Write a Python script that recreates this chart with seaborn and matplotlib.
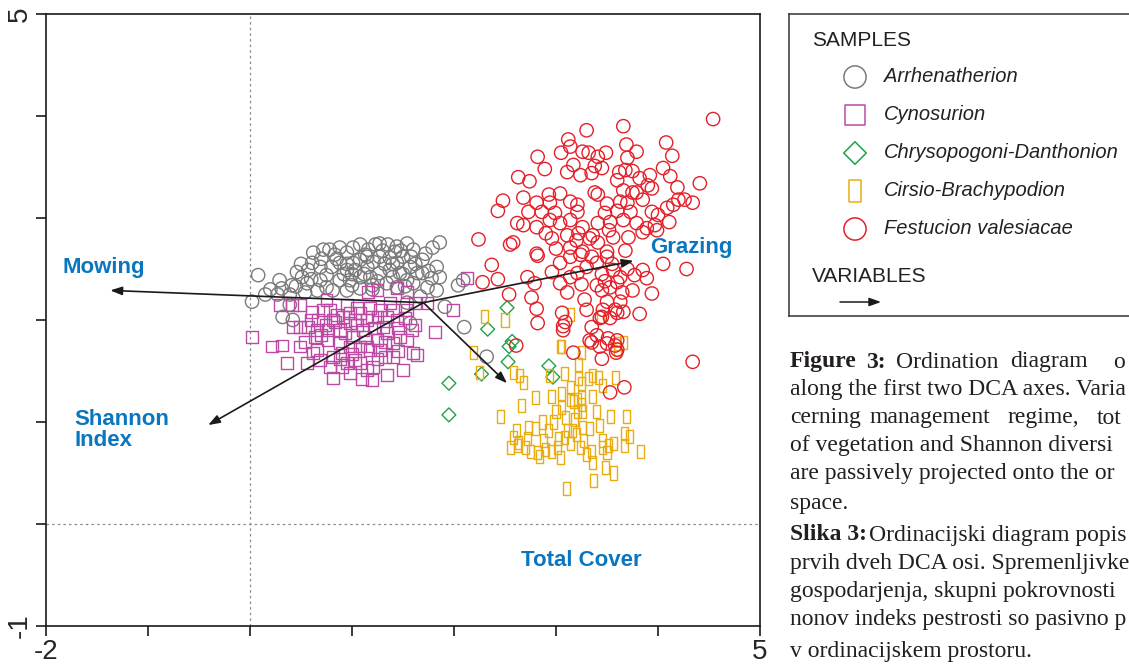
import numpy as np
import pandas as pd
import seaborn as sns
import matplotlib.pyplot as plt

sns.set_style('white')
plt.rcParams['font.family'] = ['Liberation Sans', 'DejaVu Sans']

W, H = 1129, 666

# DCA sample scores (axis 1, axis 2)
arr_x = [0.08, 0.02, 0.15, 0.29, 0.31, 0.27, 0.41, 0.46, 0.51, 0.57,
         0.56, 0.62, 0.61, 0.69, 0.72, 0.78, 0.83, 0.88, 0.95, 1.01,
         1.08, 1.16, 1.23, 1.27, 1.35, 1.44, 1.54, 1.60, 1.69, 1.79,
         1.86, 1.83, 1.86, 1.78, 1.69, 0.69, 0.75, 0.80, 0.88, 0.95,
         1.01, 1.08, 1.15, 1.21, 1.27, 1.37, 1.44, 1.50, 1.57, 1.64,
         0.88, 0.98, 1.08, 1.18, 1.27, 1.37, 1.47, 1.54, 1.60, 0.81,
         0.95, 1.08, 1.34, 1.44, 1.74, 1.83, 0.66, 0.54, 0.39, 1.91,
         2.04, 2.10, 0.39, 0.32, 0.42, 1.57, 1.54, 1.67, 2.09, 2.32,
         1.03, 1.20, 1.32, 1.42, 1.13,
         0.70, 0.85, 0.92, 1.00, 1.12, 1.25, 1.40, 1.50, 1.62, 1.72,
         0.60, 0.75, 1.00, 1.15, 1.30, 1.48, 1.58, 1.75, 1.20, 1.52,
         0.50, 0.45, 0.20, 0.95, 1.40]
arr_y = [2.44, 2.18, 2.25, 2.39, 2.31, 2.25, 2.34, 2.47, 2.42, 2.49,
         2.36, 2.66, 2.56, 2.52, 2.69, 2.69, 2.64, 2.71, 2.66, 2.71,
         2.74, 2.69, 2.74, 2.75, 2.74, 2.72, 2.75, 2.69, 2.59, 2.71,
         2.76, 2.52, 2.42, 2.41, 2.46, 2.39, 2.44, 2.52, 2.56, 2.49,
         2.56, 2.59, 2.52, 2.57, 2.62, 2.61, 2.56, 2.62, 2.52, 2.46,
         2.39, 2.39, 2.42, 2.42, 2.46, 2.49, 2.46, 2.39, 2.36, 2.29,
         2.29, 2.31, 2.36, 2.32, 2.32, 2.29, 2.29, 2.27, 2.25, 2.13,
         2.34, 1.93, 2.15, 2.03, 2.00, 1.97, 2.17, 2.23, 2.39, 1.64,
         2.49, 2.34, 2.55, 2.67, 2.64,
         2.60, 2.60, 2.45, 2.45, 2.45, 2.38, 2.42, 2.45, 2.55, 2.65,
         2.40, 2.32, 2.34, 2.62, 2.68, 2.68, 2.62, 2.48, 2.30, 2.33,
         2.55, 2.33, 2.30, 2.55, 2.55]

cyn_x = [0.02, 0.22, 0.31, 0.36, 0.29, 0.41, 0.42, 0.49, 0.56, 0.57,
         0.61, 0.64, 0.66, 0.72, 0.74, 0.76, 0.78, 0.81, 0.85, 0.88,
         0.90, 0.95, 0.98, 0.98, 1.01, 1.03, 1.08, 1.11, 1.15, 1.16,
         1.20, 1.21, 1.25, 1.20, 1.25, 1.27, 1.30, 1.32, 1.34, 1.37,
         1.40, 1.44, 1.44, 1.47, 1.50, 1.54, 1.54, 1.59, 1.60, 1.62,
         1.64, 1.74, 1.81, 1.99, 2.13, 0.49, 0.67, 0.78, 0.81, 0.91,
         1.03, 1.05, 1.15, 1.25, 1.34, 0.66, 0.76, 0.88, 0.98, 1.08,
         1.18, 1.27, 0.69, 0.81, 0.90, 1.08, 1.15, 0.95, 1.40, 1.34,
         1.54, 0.62, 0.54, 0.49,
         0.70, 0.83, 0.93, 1.05, 1.13, 1.22, 1.32, 1.45, 1.52, 1.40,
         1.18, 0.98, 0.75, 0.60, 1.00, 1.25, 1.10, 0.88, 1.45, 1.62]
cyn_y = [1.83, 1.74, 1.75, 1.58, 2.15, 2.15, 1.93, 1.74, 1.58, 1.93,
         2.08, 1.83, 1.71, 2.10, 1.95, 1.80, 1.54, 1.43, 2.05, 1.90,
         1.68, 2.15, 1.97, 1.48, 1.83, 1.61, 2.07, 1.90, 1.74, 2.27,
         2.03, 1.54, 2.29, 1.41, 1.80, 2.10, 1.93, 1.64, 1.46, 2.17,
         1.77, 2.31, 2.00, 1.83, 1.51, 2.27, 2.10, 1.90, 1.68, 2.17,
         1.66, 2.17, 1.88, 2.10, 2.41, 2.15, 2.00, 2.10, 2.00, 2.03,
         2.00, 2.12, 2.00, 2.03, 2.03, 1.90, 1.90, 1.77, 1.74, 1.74,
         1.71, 1.71, 1.61, 1.64, 1.54, 1.58, 1.51, 1.58, 1.64, 1.87,
         1.80, 1.68, 1.78, 1.93,
         1.85, 1.98, 1.87, 1.95, 1.83, 1.92, 1.78, 1.92, 2.02, 2.10,
         2.12, 2.07, 2.20, 2.00, 1.67, 1.62, 1.42, 1.62, 1.70, 1.95]

chr_x = [2.52, 2.33, 2.57, 2.54, 2.53, 2.27, 1.95, 1.95, 2.93, 2.97]
chr_y = [2.12, 1.91, 1.79, 1.74, 1.59, 1.47, 1.38, 1.07, 1.55, 1.44]

cir_x = [2.19, 2.25, 2.58, 2.64, 2.68, 3.05, 3.25, 3.22, 2.94, 3.08,
         3.14, 3.22, 3.25, 3.32, 3.36, 3.42, 3.46, 3.58, 3.66, 3.60,
         2.80, 2.66, 2.46, 2.96, 3.05, 3.14, 3.17, 3.21, 3.25, 3.36,
         3.00, 3.09, 3.21, 3.26, 3.25, 2.87, 2.93, 2.80, 2.73, 2.61,
         2.58, 2.63, 2.72, 2.70, 2.75, 2.55, 2.62, 2.82, 2.84, 2.90,
         2.96, 3.01, 3.04, 3.02, 3.11, 3.16, 3.14, 3.24, 3.27, 3.30,
         3.35, 3.36, 3.43, 3.46, 3.46, 3.50, 3.51, 3.56, 3.53, 3.69,
         3.67, 3.72, 3.67, 3.83, 3.49, 3.56, 3.37, 3.10, 3.26, 3.33,
         2.30, 2.50, 3.14, 3.44, 3.04, 3.60,
         2.88, 3.08, 3.20, 2.98, 3.18, 3.40, 3.05]
cir_y = [1.68, 1.49, 1.49, 1.46, 1.39, 1.74, 1.68, 1.56, 1.46, 1.48,
         1.34, 1.43, 1.38, 1.43, 1.46, 1.44, 1.36, 1.44, 1.78, 1.77,
         1.24, 1.16, 1.05, 1.25, 1.28, 1.22, 1.20, 1.22, 1.24, 1.25,
         1.10, 1.04, 1.10, 1.10, 1.17, 1.00, 0.92, 0.94, 0.95, 0.92,
         0.85, 0.80, 0.84, 0.75, 0.71, 0.75, 0.77, 0.70, 0.66, 0.73,
         0.71, 0.75, 0.65, 0.84, 0.92, 0.92, 0.79, 0.75, 0.82, 0.68,
         0.71, 0.60, 0.97, 0.82, 0.75, 0.70, 0.77, 0.79, 1.05, 1.05,
         0.89, 0.86, 0.77, 0.71, 0.55, 0.50, 0.43, 0.35, 0.95, 0.94,
         2.03, 2.00, 2.05, 2.03, 1.74, 1.71,
         0.82, 0.85, 0.88, 1.00, 1.02, 1.10, 1.14]

fes_x = [4.54, 3.66, 3.30, 3.12, 4.08, 3.69, 3.79, 4.14, 2.82, 3.05,
         3.14, 3.26, 3.32, 3.49, 3.70, 3.41, 2.89, 3.17, 3.11, 3.24,
         3.38, 3.45, 3.35, 4.05, 4.12, 3.62, 3.68, 3.75, 2.63, 2.74,
         3.60, 3.82, 3.92, 3.90, 3.94, 4.19, 4.41, 3.66, 3.75, 3.79,
         3.38, 3.41, 2.68, 2.93, 3.04, 2.48, 2.43, 2.81, 2.94, 3.14,
         3.21, 3.50, 3.63, 3.85, 4.09, 4.15, 4.26, 4.34, 4.20, 2.73,
         2.86, 2.99, 3.21, 3.48, 3.60, 3.73, 3.94, 4.00, 2.62, 2.68,
         2.81, 2.94, 3.04, 3.14, 3.26, 3.41, 3.53, 3.66, 3.79, 3.89,
         3.97, 4.11, 3.36, 3.33, 3.41, 3.56, 3.71, 3.85, 3.99, 2.96,
         3.11, 3.22, 2.24, 2.55, 2.58, 3.14, 3.26, 3.50, 2.81, 2.82,
         2.37, 2.28, 2.43, 2.54, 2.72, 2.79, 2.76, 2.81, 2.82, 2.96,
         3.04, 3.14, 3.24, 3.30, 3.40, 3.50, 3.56, 3.63, 3.14, 3.21,
         3.04, 3.11, 3.28, 3.40, 3.45, 3.53, 3.60, 3.65, 3.75, 3.77,
         3.85, 3.89, 3.94, 4.05, 4.28, 3.50, 3.46, 3.63, 3.66, 3.60,
         3.82, 3.45, 3.53, 3.06, 3.09, 3.07, 3.35, 3.40, 3.33, 3.43,
         3.51, 3.60, 3.60, 3.17, 3.45, 4.34, 3.58, 3.07, 3.35, 3.50,
         3.59, 3.53, 3.67, 2.61,
         3.45, 3.55, 3.35, 3.25, 3.70, 3.48, 3.58, 3.30, 3.20, 3.00,
         3.68, 2.90, 3.52, 3.43, 3.70]
fes_y = [3.97, 3.90, 3.86, 3.77, 3.74, 3.72, 3.65, 3.61, 3.60, 3.64,
         3.70, 3.65, 3.64, 3.64, 3.59, 3.60, 3.48, 3.52, 3.45, 3.42,
         3.51, 3.49, 3.44, 3.49, 3.41, 3.45, 3.47, 3.46, 3.40, 3.36,
         3.37, 3.39, 3.42, 3.32, 3.29, 3.30, 3.34, 3.27, 3.25, 3.25,
         3.25, 3.23, 3.20, 3.23, 3.24, 3.17, 3.07, 3.15, 3.15, 3.16,
         3.13, 3.14, 3.16, 3.18, 3.10, 3.13, 3.18, 3.15, 3.18, 3.06,
         3.06, 3.05, 3.06, 3.05, 3.07, 3.06, 3.06, 3.03, 2.95, 2.93,
         2.91, 2.98, 2.95, 2.98, 2.91, 2.95, 2.96, 2.98, 2.95, 2.90,
         2.93, 2.96, 2.83, 2.80, 2.76, 2.81, 2.81, 2.86, 2.88, 2.80,
         2.83, 2.85, 2.79, 2.74, 2.76, 2.71, 2.67, 2.67, 2.65, 2.63,
         2.54, 2.37, 2.40, 2.25, 2.42, 2.36, 2.22, 2.11, 1.97, 2.47,
         2.56, 2.62, 2.64, 2.52, 2.56, 2.62, 2.49, 2.42, 2.42, 2.46,
         2.36, 2.27, 2.20, 2.34, 2.29, 2.32, 2.37, 2.27, 2.29, 2.44,
         2.49, 2.41, 2.26, 2.55, 2.50, 2.18, 2.10, 2.18, 2.08, 2.07,
         2.06, 2.03, 2.02, 2.07, 1.98, 1.94, 1.93, 1.85, 1.80, 1.74,
         1.82, 1.80, 1.71, 1.68, 1.62, 1.59, 1.75, 1.90, 1.78, 1.77,
         1.68, 1.29, 1.34, 1.75,
         2.45, 2.55, 2.62, 2.35, 2.50, 2.38, 2.10, 2.10, 2.78, 2.70,
         2.68, 2.85, 2.88, 2.02, 3.15]

groups = ['Arrhenatherion', 'Cynosurion', 'Chrysopogoni-Danthonion',
          'Cirsio-Brachypodion', 'Festucion valesiacae']
group_x = [arr_x, cyn_x, chr_x, cir_x, fes_x]
group_y = [arr_y, cyn_y, chr_y, cir_y, fes_y]

# passive variables (arrow tips) and where their labels sit
var_names = ['Mowing', 'Grazing', 'Shannon\nIndex', 'Total Cover']
var_x = [-1.37, 3.76, -0.41, 2.52]
var_y = [2.29, 2.58, 0.97, 1.38]
arrow_origin = (1.70, 2.17)
label_x = [-1.84, 3.92, -1.72, 2.66]
label_y = [2.51, 2.71, 0.92, -0.36]

df = pd.concat([pd.DataFrame({'x': gx, 'y': gy, 'group': g})
                for g, gx, gy in zip(groups, group_x, group_y)], ignore_index=True)

colors = ['#7a7a7a', '#bc4aa5', '#22a04b', '#e9ac12', '#e3202a']
rect = [(-0.27, -0.5), (0.27, -0.5), (0.27, 0.5), (-0.27, 0.5), (-0.27, -0.5)]
markers = ['o', 's', 'D', rect, 'o']
sizes = [92, 74, 50, 88, 92]
leg_sizes = [256, 225, 132, 243, 256]

fig = plt.figure(figsize=(W / 100, H / 100), dpi=100)
ax = fig.add_axes([46 / W, 40 / H, 714 / W, 612 / H])

ax.axvline(0, color='#8a8a8a', lw=0.9, ls=(0, (2, 2.5)), zorder=1)
ax.axhline(0, color='#8a8a8a', lw=0.9, ls=(0, (2, 2.5)), zorder=1)

for g, col, mk, sz in zip(groups, colors, markers, sizes):
    sns.scatterplot(data=df[df.group == g], x='x', y='y', marker=mk, s=sz,
                    facecolor='none', edgecolor=col, linewidth=1.0,
                    ax=ax, legend=False, zorder=2)

for vx, vy in zip(var_x, var_y):
    ax.annotate('', xy=(vx, vy), xytext=arrow_origin,
                arrowprops=dict(arrowstyle='-|>,head_length=0.5,head_width=0.18',
                                color='#1a1a1a', lw=1.2, mutation_scale=14,
                                shrinkA=0, shrinkB=0), zorder=3)
for name, lx, ly in zip(var_names, label_x, label_y):
    ax.text(lx, ly, name, color='#0a76bf', fontsize=16, fontweight='bold',
            ha='left', va='center', linespacing=1.0, zorder=4)

ax.set_xlim(-2, 5)
ax.set_ylim(-1, 5)
ax.set_xticks(range(-2, 6))
ax.set_xticklabels(['-2', '', '', '', '', '', '', '5'])
ax.set_yticks(range(-1, 6))
ax.set_yticklabels(['-1', '', '', '', '', '', '5'], rotation=90, va='center')
ax.tick_params(direction='out', length=7.5, width=1.2, labelsize=20, pad=2,
               bottom=True, left=True, color='#1a1a1a')
ax.set_xlabel('')
ax.set_ylabel('')
for s in ax.spines.values():
    s.set_linewidth(1.2)
    s.set_color('#1a1a1a')

# legend panel (clipped by the right edge like the original)
lax = fig.add_axes([789 / W, 1 - 316 / H, 400 / W, 302 / H])
lax.set_xlim(0, 400)
lax.set_ylim(302, 0)
lax.set_xticks([])
lax.set_yticks([])
for s in lax.spines.values():
    s.set_linewidth(1.1)
    s.set_color('#333333')
lax.text(23, 26, 'SAMPLES', fontsize=15, va='center', color='#222222')
for i, (g, col, mk, sz) in enumerate(zip(groups, colors, markers, leg_sizes)):
    yy = 63 + 38 * i
    lax.scatter([66], [yy], marker=mk, s=sz, facecolor='none', edgecolor=col, linewidth=1.1)
    lax.text(95, yy, g, fontsize=14.5, style='italic', va='center', color='#222222')
lax.text(23, 263, 'VARIABLES', fontsize=15, va='center', color='#222222')
lax.annotate('', xy=(92, 288), xytext=(51, 288),
             arrowprops=dict(arrowstyle='-|>,head_length=0.5,head_width=0.18',
                             color='#1a1a1a', lw=1.1, mutation_scale=14,
                             shrinkA=0, shrinkB=0))

# caption, only the part that the page shows
cap = dict(family=['Liberation Serif', 'DejaVu Serif'], fontsize=17, va='center',
           color='#231f20')


def put(x, y, s, bold=False):
    fig.text(x / W, 1 - y / H, s, fontweight='bold' if bold else 'normal', **cap)


for word, x, b in [('Figure', 790, True), ('3:', 866, True), ('Ordination', 896, False),
                   ('diagram', 1010, False), ('o', 1113, False)]:
    put(x, 362, word, b)
put(790, 390, 'along the first two DCA axes. Varia')
for word, x in [('cerning', 790), ('management', 870), ('regime,', 1008), ('tot', 1097)]:
    put(x, 418, word)
put(790, 446, 'of vegetation and Shannon diversi')
put(790, 474, 'are passively projected onto the or')
put(790, 503, 'space.')
put(790, 535, 'Slika 3:', bold=True)
put(869, 535, 'Ordinacijski diagram popis')
put(790, 563, 'prvih dveh DCA osi. Spremenljivke')
put(790, 591, 'gospodarjenja, skupni pokrovnosti')
put(790, 619, 'nonov indeks pestrosti so pasivno p')
put(790, 651, 'v ordinacijskem prostoru.')

fig.savefig('out.png', dpi=100)
